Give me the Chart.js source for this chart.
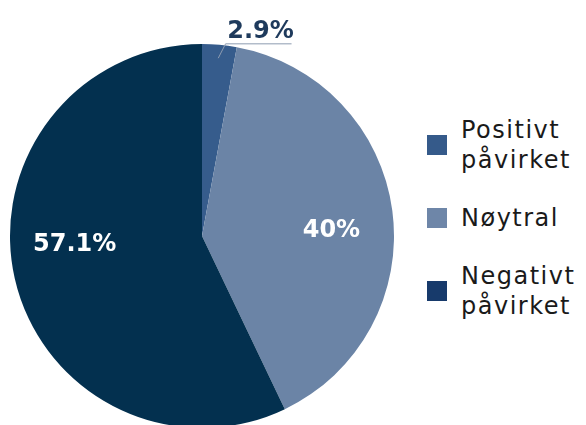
<!DOCTYPE html>
<html>
<head>
<meta charset="utf-8">
<script src="https://cdn.jsdelivr.net/npm/chart.js@4.4.0/dist/chart.umd.min.js"></script>
<style>
  body { margin: 0; width: 586px; height: 425px; overflow: hidden; background: #fff; position: relative; }
  #wrap { position: absolute; left: 0; top: 0; width: 404px; height: 472px; }
  #legend { position: absolute; left: 427px; top: 115px; font-family: "DejaVu Sans", sans-serif; font-size: 24px; letter-spacing: 1.5px; color: #1a1a1a; }
  .item { display: flex; align-items: center; margin-bottom: 28px; }
  .box { width: 20px; height: 20px; flex: none; margin-right: 14px; }
  .txt { width: 125px; line-height: 30px; }
</style>
</head>
<body>
<div id="wrap"><canvas id="c"></canvas></div>
<div id="legend"></div>
<script>
// data
const categories = ['Positivt påvirket', 'Nøytral', 'Negativt påvirket'];
const values = [2.9, 40, 57.1];
const sliceColors = ['#365c8c', '#6b84a6', '#03304f'];
const legendColors = ['#355a8a', '#6e86a8', '#173a6b'];

// legend as html
const legend = document.getElementById('legend');
categories.forEach((c, i) => {
    legend.innerHTML += `<div class="item"><span class="box" style="background:${legendColors[i]}"></span><span class="txt">${c}</span></div>`;
});

// labels on the slices
const sliceLabels = {
    id: 'sliceLabels',
    afterDatasetsDraw(chart) {
        const ctx = chart.ctx;
        const arcs = chart.getDatasetMeta(0).data;
        ctx.save();
        ctx.font = 'bold 24px "DejaVu Sans"';
        ctx.textAlign = 'center';
        arcs.forEach((arc, i) => {
            const p = arc.getProps(['x', 'y', 'startAngle', 'endAngle', 'outerRadius'], true);
            const mid = (p.startAngle + p.endAngle) / 2;
            const txt = values[i] + '%';
            if (values[i] < 5) {
                // outside with leader line
                const x0 = p.x + Math.cos(mid) * p.outerRadius * 0.93;
                const y0 = p.y + Math.sin(mid) * p.outerRadius * 0.93;
                const x1 = p.x + Math.cos(mid) * p.outerRadius * 1.005 + 6;
                const y1 = p.y + Math.sin(mid) * p.outerRadius * 1.005;
                ctx.strokeStyle = '#8d9bb0';
                ctx.lineWidth = 1;
                ctx.beginPath();
                ctx.moveTo(x0, y0);
                ctx.lineTo(x1, y1);
                ctx.lineTo(x1 + 66, y1);
                ctx.stroke();
                ctx.fillStyle = '#1e3a5c';
                ctx.textBaseline = 'alphabetic';
                ctx.fillText(txt, x1 + 35, y1 - 6);
            } else {
                // inside, pulled a little toward the horizontal
                const r = p.outerRadius * 0.68;
                ctx.fillStyle = '#ffffff';
                ctx.textBaseline = 'middle';
                ctx.fillText(txt, p.x + Math.cos(mid) * r, p.y + Math.sin(mid) * r * 0.32);
            }
        });
        ctx.restore();
    }
};

new Chart(document.getElementById('c'), {
    type: 'pie',
    data: {
        labels: categories,
        datasets: [{
            data: values,
            backgroundColor: sliceColors,
            borderWidth: 0
        }]
    },
    options: {
        responsive: true,
        maintainAspectRatio: false,
        animation: false,
        layout: { padding: 10 },
        plugins: {
            legend: { display: false },
            tooltip: { enabled: false }
        }
    },
    plugins: [sliceLabels]
});
</script>
</body>
</html>
